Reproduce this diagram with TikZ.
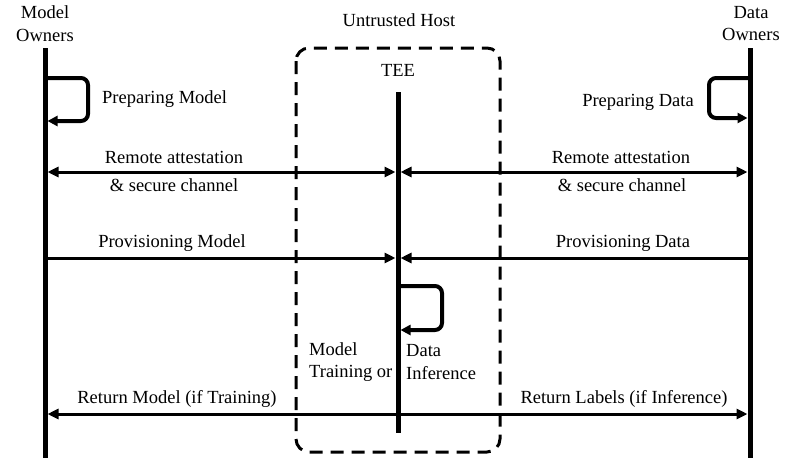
\documentclass[tikz,border=0pt]{standalone}
\usepackage{fontspec}
\setmainfont{Liberation Serif}
\usetikzlibrary{arrows.meta}
\tikzset{
  lifeline/.style={line width=5pt},
  msg/.style={line width=3pt, -{Triangle[length=11pt,width=10pt]}, shorten >=2.5pt},
  dmsg/.style={line width=3pt, {Triangle[length=11pt,width=10pt]}-{Triangle[length=11pt,width=10pt]}, shorten >=2.5pt, shorten <=2.5pt},
  loopmsg/.style={line width=4pt, rounded corners=7pt, -{Triangle[length=10pt,width=10pt]}, shorten >=2.5pt},
  hostbox/.style={line width=3pt, dash pattern=on 13pt off 8pt, rounded corners=13pt},
  lbl/.style={font=\fontsize{18.5}{22.5}\selectfont, inner sep=0pt},
  mlbl/.style={lbl, align=center},
  llbl/.style={lbl, align=left, anchor=west},
}
\begin{document}
\begin{tikzpicture}[x=1pt,y=-1pt]
\useasboundingbox (0,0) rectangle (788,464);
% participants
\node[mlbl] (mo) at (45,23.5) {Model\\Owners};
\node[mlbl] (do) at (751,23.5) {Data\\Owners};
\node[lbl] (uh) at (399,20) {Untrusted Host};
\node[lbl] (tee) at (398,70) {TEE};
% host box
\draw[hostbox] (296,48) rectangle (500,452);
% lifelines
\coordinate (Mtop) at (45,48); \coordinate (Mbot) at (45,458);
\coordinate (Dtop) at (750,48); \coordinate (Dbot) at (750,458);
\coordinate (Ttop) at (398,92); \coordinate (Tbot) at (398,433);
\draw[lifeline] (Mtop) -- (Mbot);
\draw[lifeline] (Dtop) -- (Dbot);
\draw[lifeline] (Ttop) -- (Tbot);
% preparing model
\coordinate (pm1) at (45,78); \coordinate (pm2) at (45,121);
\draw[loopmsg] (pm1) -- (88,78) -- (88,121) -- (pm2);
\node[llbl] (pmt) at (102,99) {Preparing Model};
% preparing data
\coordinate (pd1) at (750,78); \coordinate (pd2) at (750,118);
\draw[loopmsg] (pd1) -- (709,78) -- (709,118) -- (pd2);
\node[lbl] (pdt) at (638,102) {Preparing Data};
% remote attestation
\coordinate (M1) at (45,172); \coordinate (T1) at (398,172); \coordinate (D1) at (750,172);
\draw[dmsg] (M1) -- (T1);
\draw[dmsg] (D1) -- (T1);
\node[lbl] (ra1) at (174,157) {Remote attestation};
\node[lbl] (sc1) at (174,185) {\& secure channel};
\node[lbl] (ra2) at (621,157) {Remote attestation};
\node[lbl] (sc2) at (622,185) {\& secure channel};
% provisioning
\coordinate (M2) at (45,258); \coordinate (T2) at (398,258); \coordinate (D2) at (750,258);
\draw[msg] (M2) -- (T2);
\draw[msg] (D2) -- (T2);
\node[lbl] (pvm) at (172,243) {Provisioning Model};
\node[lbl] (pvd) at (623,243) {Provisioning Data};
% TEE computation
\coordinate (tl1) at (398,286); \coordinate (tl2) at (398,330);
\draw[loopmsg] (tl1) -- (442,286) -- (442,330) -- (tl2);
\node[llbl] (mt) at (309,362) {Model\\Training or};
\node[llbl] (di) at (406,362) {Data\\Inference};
% return
\coordinate (M3) at (45,414); \coordinate (T3) at (398,414); \coordinate (D3) at (750,414);
\draw[msg] (T3) -- (M3);
\draw[msg] (T3) -- (D3);
\node[lbl] (rm) at (177,399) {Return Model (if Training)};
\node[lbl] (rl) at (624,399) {Return Labels (if Inference)};
\end{tikzpicture}
\end{document}
